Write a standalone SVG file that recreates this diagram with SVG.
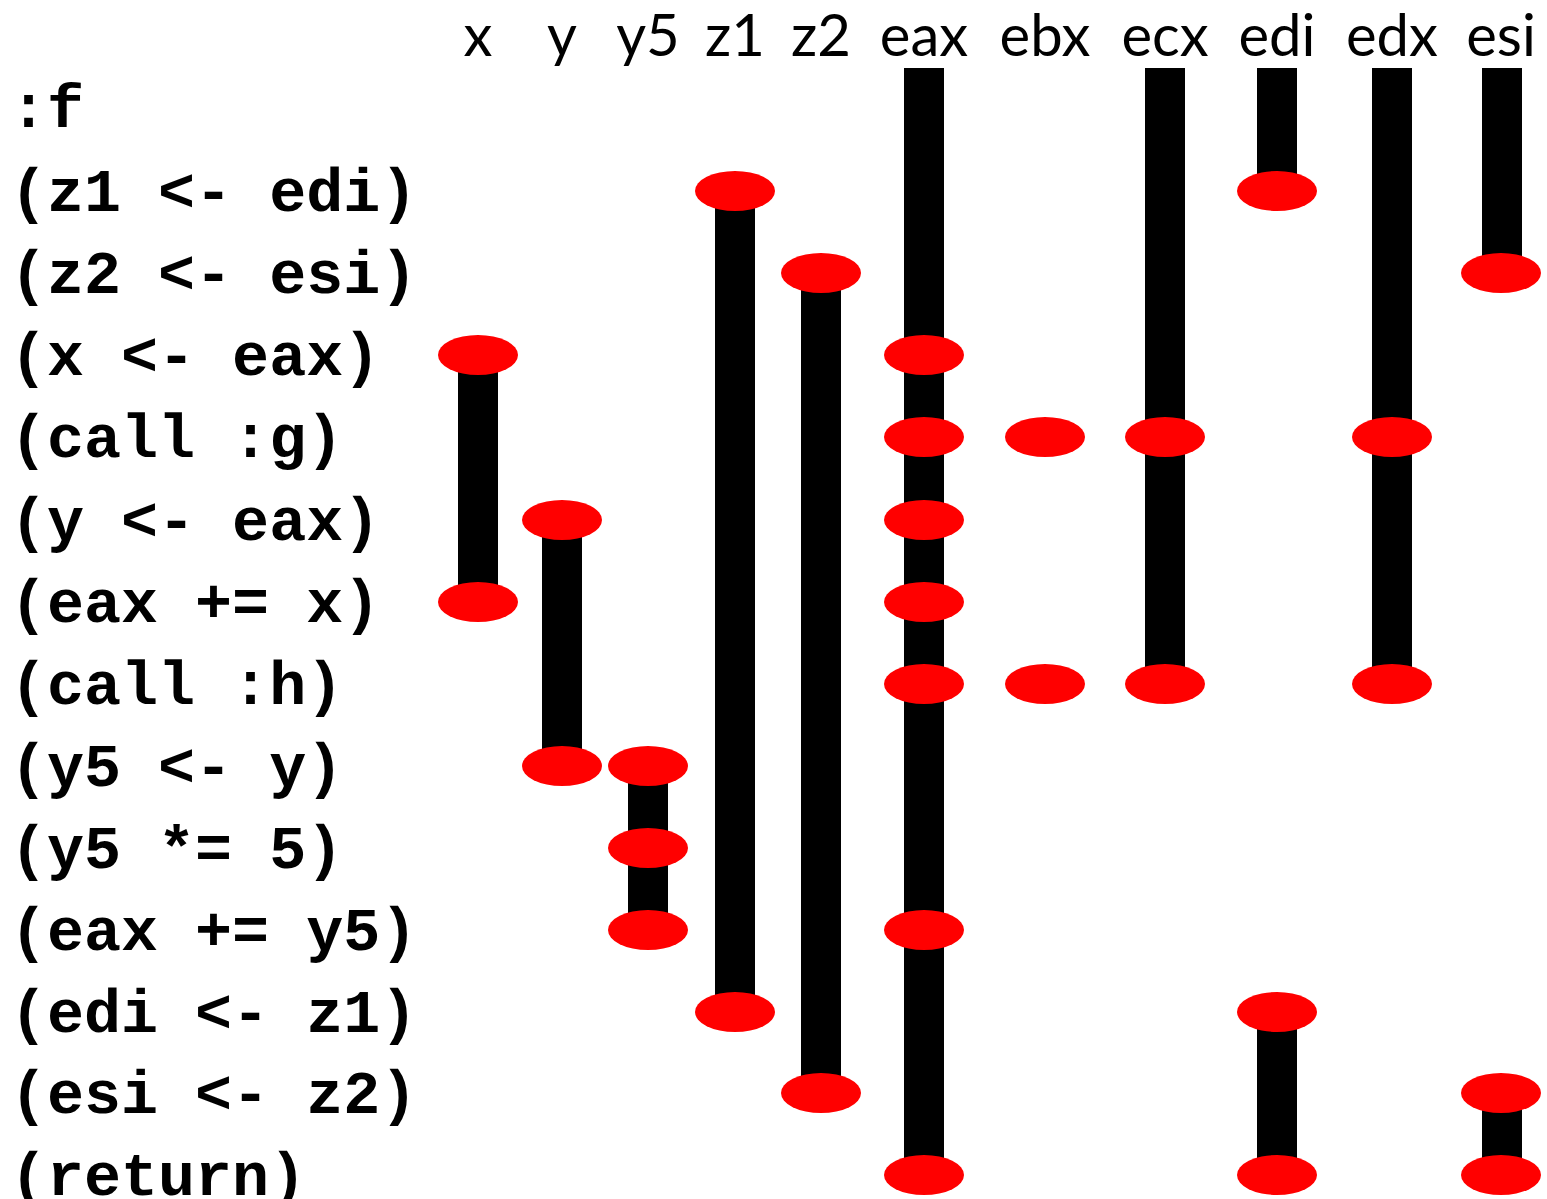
<svg xmlns="http://www.w3.org/2000/svg" width="1547" height="1199" viewBox="0 0 1547 1199">
<style>
.hdr{font-family:"Lato","Open Sans",sans-serif;font-size:58px;fill:#000;text-anchor:middle}
.code{font-family:"Liberation Mono","Courier New",monospace;font-weight:bold;font-size:61.7px;fill:#000}
.bar{fill:#000}
.pt{fill:#ff0000}
</style>
<rect width="1547" height="1199" fill="#fff"/>
<g id="headers">
<text class="hdr" x="478" y="56">x</text>
<text class="hdr" x="562" y="56">y</text>
<text class="hdr" x="648" y="56">y5</text>
<text class="hdr" x="735" y="56">z1</text>
<text class="hdr" x="821" y="56">z2</text>
<text class="hdr" x="924" y="56">eax</text>
<text class="hdr" x="1045" y="56">ebx</text>
<text class="hdr" x="1165" y="56">ecx</text>
<text class="hdr" x="1277" y="56">edi</text>
<text class="hdr" x="1392" y="56">edx</text>
<text class="hdr" x="1501" y="56">esi</text>
</g>
<g id="code">
<text class="code" x="10" y="127">:f</text>
<text class="code" x="10" y="211">(z1 &lt;- edi)</text>
<text class="code" x="10" y="293">(z2 &lt;- esi)</text>
<text class="code" x="10" y="375">(x &lt;- eax)</text>
<text class="code" x="10" y="457">(call :g)</text>
<text class="code" x="10" y="540">(y &lt;- eax)</text>
<text class="code" x="10" y="622">(eax += x)</text>
<text class="code" x="10" y="704">(call :h)</text>
<text class="code" x="10" y="786">(y5 &lt;- y)</text>
<text class="code" x="10" y="868">(y5 *= 5)</text>
<text class="code" x="10" y="950">(eax += y5)</text>
<text class="code" x="10" y="1032">(edi &lt;- z1)</text>
<text class="code" x="10" y="1113">(esi &lt;- z2)</text>
<text class="code" x="10" y="1195">(return)</text>
</g>
<g id="connectors">
<rect class="bar" x="904" y="68" width="40" height="1107"/>
<rect class="bar" x="1145" y="68" width="40" height="616"/>
<rect class="bar" x="1257" y="68" width="40" height="123"/>
<rect class="bar" x="1372" y="68" width="40" height="616"/>
<rect class="bar" x="1482" y="68" width="40" height="205"/>
<rect class="bar" x="458" y="355" width="40" height="247"/>
<rect class="bar" x="542" y="520" width="40" height="246"/>
<rect class="bar" x="628" y="766" width="40" height="164"/>
<rect class="bar" x="715" y="191" width="40" height="821"/>
<rect class="bar" x="801" y="273" width="40" height="820"/>
<rect class="bar" x="1257" y="1012" width="40" height="163"/>
<rect class="bar" x="1482" y="1093" width="40" height="82"/>
</g>
<g id="points">
<ellipse class="pt" cx="735" cy="191" rx="40" ry="20"/>
<ellipse class="pt" cx="1277" cy="191" rx="40" ry="20"/>
<ellipse class="pt" cx="821" cy="273" rx="40" ry="20"/>
<ellipse class="pt" cx="1501" cy="273" rx="40" ry="20"/>
<ellipse class="pt" cx="478" cy="355" rx="40" ry="20"/>
<ellipse class="pt" cx="924" cy="355" rx="40" ry="20"/>
<ellipse class="pt" cx="924" cy="437" rx="40" ry="20"/>
<ellipse class="pt" cx="1045" cy="437" rx="40" ry="20"/>
<ellipse class="pt" cx="1165" cy="437" rx="40" ry="20"/>
<ellipse class="pt" cx="1392" cy="437" rx="40" ry="20"/>
<ellipse class="pt" cx="562" cy="520" rx="40" ry="20"/>
<ellipse class="pt" cx="924" cy="520" rx="40" ry="20"/>
<ellipse class="pt" cx="478" cy="602" rx="40" ry="20"/>
<ellipse class="pt" cx="924" cy="602" rx="40" ry="20"/>
<ellipse class="pt" cx="924" cy="684" rx="40" ry="20"/>
<ellipse class="pt" cx="1045" cy="684" rx="40" ry="20"/>
<ellipse class="pt" cx="1165" cy="684" rx="40" ry="20"/>
<ellipse class="pt" cx="1392" cy="684" rx="40" ry="20"/>
<ellipse class="pt" cx="562" cy="766" rx="40" ry="20"/>
<ellipse class="pt" cx="648" cy="766" rx="40" ry="20"/>
<ellipse class="pt" cx="648" cy="848" rx="40" ry="20"/>
<ellipse class="pt" cx="648" cy="930" rx="40" ry="20"/>
<ellipse class="pt" cx="924" cy="930" rx="40" ry="20"/>
<ellipse class="pt" cx="735" cy="1012" rx="40" ry="20"/>
<ellipse class="pt" cx="1277" cy="1012" rx="40" ry="20"/>
<ellipse class="pt" cx="821" cy="1093" rx="40" ry="20"/>
<ellipse class="pt" cx="1501" cy="1093" rx="40" ry="20"/>
<ellipse class="pt" cx="924" cy="1175" rx="40" ry="20"/>
<ellipse class="pt" cx="1277" cy="1175" rx="40" ry="20"/>
<ellipse class="pt" cx="1501" cy="1175" rx="40" ry="20"/>
</g>
</svg>
